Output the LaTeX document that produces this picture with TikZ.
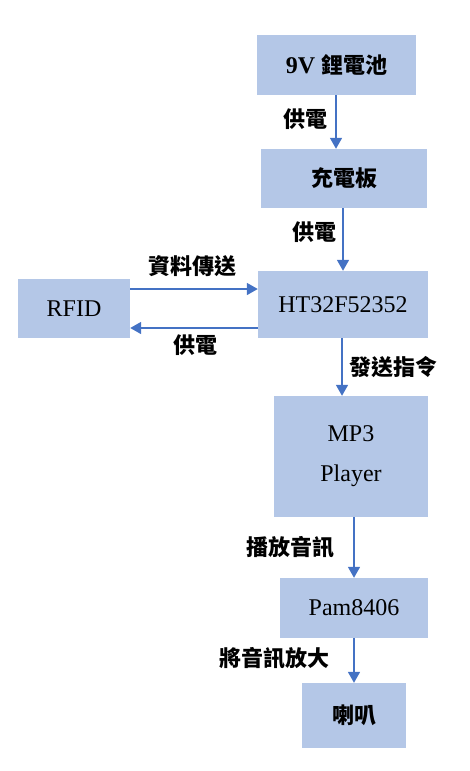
\documentclass[tikz,border=0pt]{standalone}
\usepackage{fontspec}
\setmainfont{Liberation Serif}
\newfontfamily\cjk{Noto Sans CJK TC}
\usetikzlibrary{arrows.meta}
\definecolor{boxfill}{HTML}{B4C7E7}
\definecolor{arrowc}{HTML}{4472C4}
\tikzset{
  blk/.style={fill=boxfill, draw=none, inner sep=0pt, align=center, font=\fontsize{24}{40}\selectfont},
  lbl/.style={inner sep=0pt, font=\cjk\bfseries\fontsize{22}{24}\selectfont},
  conn/.style={draw=arrowc, line width=1.6pt, -{Triangle[width=12pt,length=11pt]}},
}
\begin{document}
\begin{tikzpicture}[x=1pt,y=-1pt]
\useasboundingbox (0,0) rectangle (469,771);
% boxes
\node[blk, minimum width=159pt, minimum height=60pt] (bat) at (336.5,65) {\bfseries 9V {\cjk\fontsize{22}{24}\selectfont 鋰電池}};
\node[blk, minimum width=166pt, minimum height=59pt] (chg) at (344,178.5) {\cjk\bfseries\fontsize{22}{24}\selectfont 充電板};
\node[blk, minimum width=170pt, minimum height=67pt] (mcu) at (343,304.5) {HT32F52352};
\node[blk, minimum width=112pt, minimum height=59pt] (rfid) at (74,308.5) {RFID};
\node[blk, minimum width=154pt, minimum height=121pt] (mp3) at (351,456.5) {MP3\\Player};
\node[blk, minimum width=148pt, minimum height=60pt] (pam) at (354,608) {Pam8406};
\node[blk, minimum width=104pt, minimum height=65pt] (spk) at (354,715.5) {\cjk\bfseries\fontsize{22}{24}\selectfont 喇叭};
% connectors
\draw[conn] (bat.south -| 336,0) -- (chg.north -| 336,0);
\draw[conn] (chg.south -| 343,0) -- (mcu.north -| 343,0);
\draw[conn] (rfid.east |- 0,289) -- (mcu.west |- 0,289);
\draw[conn] (mcu.west |- 0,328) -- (rfid.east |- 0,328);
\draw[conn] (mcu.south -| 342,0) -- (mp3.north -| 342,0);
\draw[conn] (mp3.south -| 354,0) -- (pam.north -| 354,0);
\draw[conn] (pam.south -| 354,0) -- (spk.north -| 354,0);
% labels
\node[lbl] (l1) at (305,119) {供電};
\node[lbl] (l2) at (314,232) {供電};
\node[lbl] (l3) at (192,266) {資料傳送};
\node[lbl] (l4) at (195,345) {供電};
\node[lbl] (l5) at (393,367) {發送指令};
\node[lbl] (l6) at (290,547) {播放音訊};
\node[lbl] (l7) at (274,658) {將音訊放大};
\end{tikzpicture}
\end{document}
